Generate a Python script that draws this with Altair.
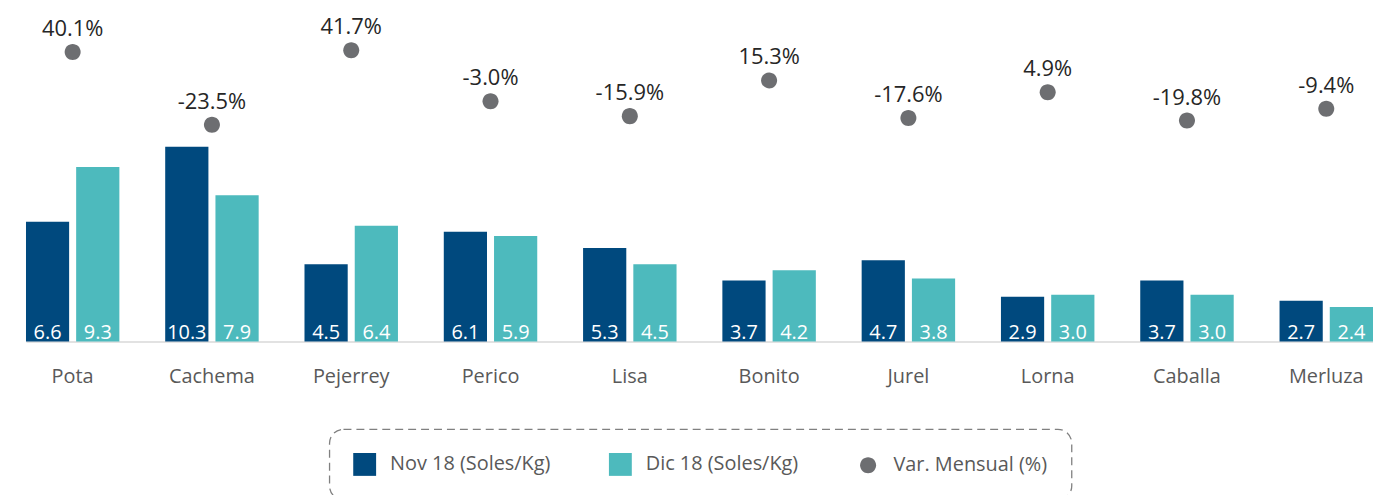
import altair as alt
import pandas as pd

categorias = ["Pota", "Cachema", "Pejerrey", "Perico", "Lisa", "Bonito", "Jurel", "Lorna", "Caballa", "Merluza"]
nov18 = [6.6, 10.3, 4.5, 6.1, 5.3, 3.7, 4.7, 2.9, 3.7, 2.7]
dic18 = [9.3, 7.9, 6.4, 5.9, 4.5, 4.2, 3.8, 3.0, 3.0, 2.4]
var_mensual = [40.1, -23.5, 41.7, -3.0, -15.9, 15.3, -17.6, 4.9, -19.8, -9.4]
series = ["Nov 18 (Soles/Kg)", "Dic 18 (Soles/Kg)", "Var. Mensual (%)"]
colores = ["#00497E", "#4DBABD", "#6D6E71"]

FONT = "Open Sans"
BAR_DOMAIN = [0.69, 16.83]
VAR_DOMAIN = [-212.8, 73.1]
SQUARE = "M-1,-1H1V1H-1Z"
CIRCLE = "M-0.7,0A0.7,0.7 0 1,0 0.7,0A0.7,0.7 0 1,0 -0.7,0Z"

bars_df = pd.DataFrame({
    "categoria": categorias * 2,
    "serie": [series[0]] * len(categorias) + [series[1]] * len(categorias),
    "valor": nov18 + dic18,
})
bars_df["etiqueta"] = [f"{v:.1f}" for v in bars_df["valor"]]

var_df = pd.DataFrame({
    "categoria": categorias,
    "serie": [series[2]] * len(categorias),
    "var": var_mensual,
})
var_df["etiqueta"] = [f"{v:.1f}%" for v in var_mensual]

x_enc = alt.X(
    "categoria:N",
    sort=categorias,
    title=None,
    scale=alt.Scale(paddingInner=0.329, paddingOuter=0),
    axis=alt.Axis(
        labelAngle=0, ticks=False, domainColor="#D9D9D9", domainWidth=1.5,
        labelFont=FONT, labelFontSize=20, labelColor="#595959", labelPadding=25,
    ),
)
xoff_enc = alt.XOffset("serie:N", sort=series[:2], scale=alt.Scale(paddingInner=0.14, paddingOuter=0))

legend = alt.Legend(orient="none", legendX=305, legendY=417, direction="horizontal")
color_enc = alt.Color(
    "serie:N", title=None,
    scale=alt.Scale(domain=series, range=colores),
    legend=legend,
)
shape_enc = alt.Shape(
    "serie:N", title=None,
    scale=alt.Scale(domain=series, range=[SQUARE, SQUARE, CIRCLE]),
    legend=legend,
)

y_bar = alt.Y("valor:Q", scale=alt.Scale(domain=BAR_DOMAIN, zero=False, nice=False), axis=None, title=None)

bars = alt.Chart(bars_df).mark_bar(clip=True).encode(
    x=x_enc, xOffset=xoff_enc, y=y_bar, color=color_enc,
)
bar_text = alt.Chart(bars_df).mark_text(
    color="white", font=FONT, fontSize=20, baseline="alphabetic", dy=-3,
).encode(
    x=x_enc, xOffset=xoff_enc,
    y=alt.YDatum(BAR_DOMAIN[0], scale=alt.Scale(domain=BAR_DOMAIN, zero=False, nice=False), axis=None),
    text="etiqueta:N",
)

y_var = alt.Y("var:Q", scale=alt.Scale(domain=VAR_DOMAIN, zero=False, nice=False), axis=None, title=None)
points = alt.Chart(var_df).mark_point(filled=True, size=529, opacity=1, strokeWidth=0).encode(
    x=x_enc, y=y_var, color=color_enc, shape=shape_enc,
)
point_text = alt.Chart(var_df).mark_text(
    color="#262626", font=FONT, fontSize=22, baseline="middle", dy=-23,
).encode(x=x_enc, y=y_var, text="etiqueta:N")

chart = alt.layer(
    alt.layer(bars, bar_text),
    alt.layer(points, point_text),
).resolve_scale(y="independent").properties(
    width=1354, height=329,
    padding={"left": 18, "top": 5, "right": 0, "bottom": 0},
).configure_view(stroke=None).configure_legend(
    strokeColor="#808080", strokeDash=[8, 5], strokeWidth=1.3, cornerRadius=14,
    padding=24, symbolSize=529, symbolStrokeWidth=0,
    labelFont=FONT, labelFontSize=20, labelColor="#595959", labelOffset=14,
    labelLimit=400, columnPadding=58,
)

chart.save("out.html", embed_options={"renderer": "svg", "actions": False})
